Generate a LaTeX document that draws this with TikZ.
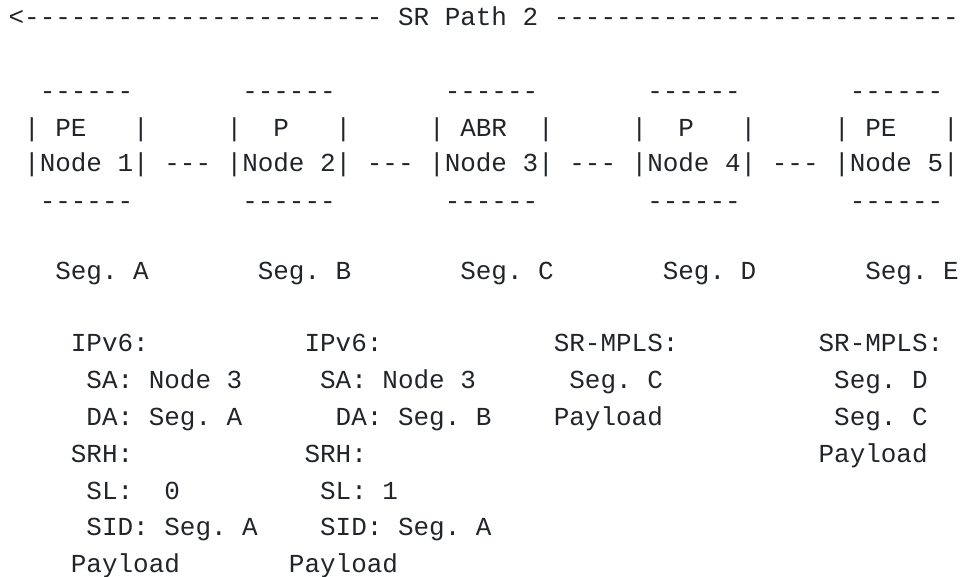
\documentclass[tikz,border=0pt]{standalone}
\usepackage{fontspec}
\setmonofont{Liberation Mono}
\definecolor{ink}{RGB}{33,37,41}
\tikzset{tx/.style={inner sep=0pt,outer sep=0pt,anchor=base west,text=ink,
  font=\ttfamily\fontsize{25.96}{30}\selectfont}}
\newcommand\txt[4]{\node[tx] (#1) at ({8.6+#2*15.577},#3) {#4};}
\begin{document}
\frenchspacing
\begin{tikzpicture}[x=1pt,y=-1pt]
\useasboundingbox (0,0) rectangle (961,577);
% title row
\txt{arrL}{0}{26}{<-----------------------}
\txt{title}{25}{26}{SR~Path~2}
\txt{arrR}{35}{26}{--------------------------}
% box tops
\txt{t1}{2}{99.5}{------}
\txt{t2}{15}{99.5}{------}
\txt{t3}{28}{99.5}{------}
\txt{t4}{41}{99.5}{------}
\txt{t5}{54}{99.5}{------}
% roles
\txt{r1}{1}{137}{|~PE~~~|}
\txt{r2}{14}{137}{|~~P~~~|}
\txt{r3}{27}{137}{|~ABR~~|}
\txt{r4}{40}{137}{|~~P~~~|}
\txt{r5}{53}{137}{|~PE~~~|}
% node names and links
\txt{n1}{1}{172}{|Node~1|}
\txt{k12}{10}{172}{---}
\txt{n2}{14}{172}{|Node~2|}
\txt{k23}{23}{172}{---}
\txt{n3}{27}{172}{|Node~3|}
\txt{k34}{36}{172}{---}
\txt{n4}{40}{172}{|Node~4|}
\txt{k45}{49}{172}{---}
\txt{n5}{53}{172}{|Node~5|}
% box bottoms
\txt{b1}{2}{209.5}{------}
\txt{b2}{15}{209.5}{------}
\txt{b3}{28}{209.5}{------}
\txt{b4}{41}{209.5}{------}
\txt{b5}{54}{209.5}{------}
% segments
\txt{sa}{3}{280}{Seg.~A}
\txt{sb}{16}{280}{Seg.~B}
\txt{sc}{29}{280}{Seg.~C}
\txt{sd}{42}{280}{Seg.~D}
\txt{se}{55}{280}{Seg.~E}
% headers column 1
\txt{h1a}{4}{351}{IPv6:}
\txt{h1b}{5}{388.5}{SA:~Node~3}
\txt{h1c}{5}{425.5}{DA:~Seg.~A}
\txt{h1d}{4}{462.5}{SRH:}
\txt{h1e}{5}{499.5}{SL:~~0}
\txt{h1f}{5}{535.5}{SID:~Seg.~A}
\txt{h1g}{4}{572.5}{Payload}
% headers column 2
\txt{h2a}{19}{351}{IPv6:}
\txt{h2b}{20}{388.5}{SA:~Node~3}
\txt{h2c}{21}{425.5}{DA:~Seg.~B}
\txt{h2d}{19}{462.5}{SRH:}
\txt{h2e}{20}{499.5}{SL:~1}
\txt{h2f}{20}{535.5}{SID:~Seg.~A}
\txt{h2g}{18}{572.5}{Payload}
% headers column 3
\txt{h3a}{35}{351}{SR-MPLS:}
\txt{h3b}{36}{388.5}{Seg.~C}
\txt{h3c}{35}{425.5}{Payload}
% headers column 4
\txt{h4a}{52}{351}{SR-MPLS:}
\txt{h4b}{53}{388.5}{Seg.~D}
\txt{h4c}{53}{425.5}{Seg.~C}
\txt{h4d}{52}{462.5}{Payload}
\end{tikzpicture}
\end{document}
